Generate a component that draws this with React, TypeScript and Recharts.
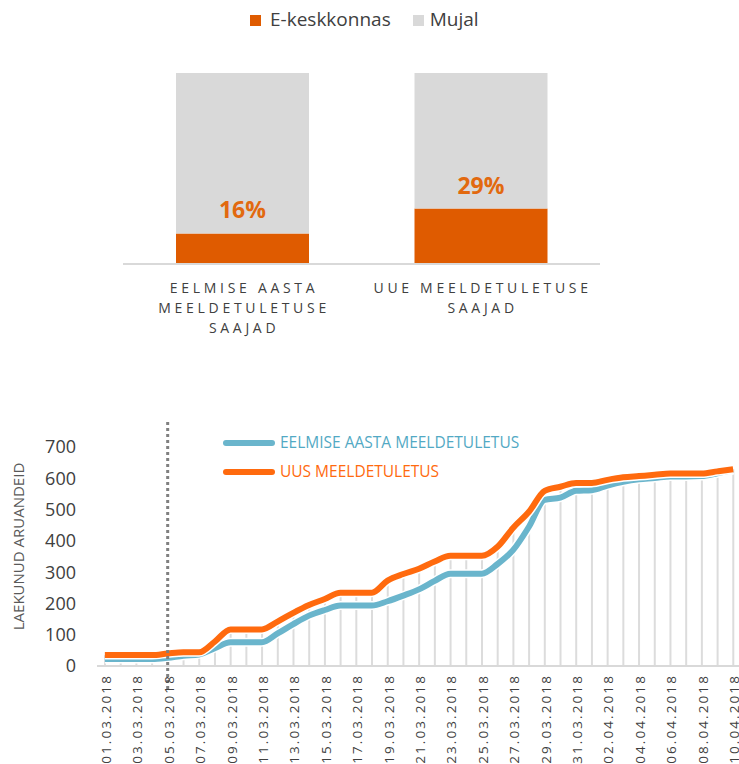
import React from 'react';
import {
  BarChart,
  Bar,
  XAxis,
  YAxis,
  LabelList,
  Legend,
  ComposedChart,
  Line,
  ReferenceLine,
} from 'recharts';

// ---------- Top chart data ----------
const groupKeys = ['EELMISE AASTA MEELDETULETUSE SAAJAD', 'UUE MEELDETULETUSE SAAJAD'];
const groupLabelLines = [
  ['EELMISE AASTA', 'MEELDETULETUSE', 'SAAJAD'],
  ['UUE MEELDETULETUSE', 'SAAJAD'],
];
const eKeskkonnas = [16, 29];
const mujal = [84, 71];
const shareSeriesNames = ['E-keskkonnas', 'Mujal'];

// ---------- Bottom chart data ----------
const dates = [
  '01.03.2018', '02.03.2018', '03.03.2018', '04.03.2018', '05.03.2018', '06.03.2018', '07.03.2018',
  '08.03.2018', '09.03.2018', '10.03.2018', '11.03.2018', '12.03.2018', '13.03.2018', '14.03.2018',
  '15.03.2018', '16.03.2018', '17.03.2018', '18.03.2018', '19.03.2018', '20.03.2018', '21.03.2018',
  '22.03.2018', '23.03.2018', '24.03.2018', '25.03.2018', '26.03.2018', '27.03.2018', '28.03.2018',
  '29.03.2018', '30.03.2018', '31.03.2018', '01.04.2018', '02.04.2018', '03.04.2018', '04.04.2018',
  '05.04.2018', '06.04.2018', '07.04.2018', '08.04.2018', '09.04.2018', '10.04.2018',
];
const eelmiseAasta = [
  22, 22, 22, 22, 26, 33, 37, 57, 76, 76, 76, 104, 134, 161, 179, 193, 193, 193, 207, 225, 245,
  272, 295, 295, 295, 326, 371, 445, 531, 538, 560, 562, 577, 589, 597, 601, 606, 606, 607, 616, 626,
];
const uusMeeldetuletus = [
  35, 35, 35, 35, 40, 44, 44, 78, 117, 117, 117, 142, 170, 195, 214, 234, 234, 234, 273, 294, 311,
  334, 352, 352, 352, 381, 442, 493, 560, 573, 585, 585, 595, 603, 607, 611, 615, 615, 615, 622, 629,
];
const yTicks = [0, 100, 200, 300, 400, 500, 600, 700];
const markerDate = '05.03.2018';
const lineSeriesNames = ['EELMISE AASTA MEELDETULETUS', 'UUS MEELDETULETUS'];
const yAxisTitle = 'LAEKUNUD ARUANDEID';

// ---------- Styles ----------
const FONT = "'Open Sans', sans-serif";
const BAR_ORANGE = '#DF5B00';
const BAR_GRAY = '#D9D9D9';
const PCT_COLOR = '#E2690F';
const TEXT = '#404040';
const LINE_BLUE = '#6AB5CC';
const LINE_ORANGE = '#FF6A0E';
const BLUE_TEXT = '#52A9C4';
const DROP_GRAY = '#DCDCDC';

const shareData = groupKeys.map((g, i) => ({ group: g, e: eKeskkonnas[i], m: mujal[i] }));
const lineData = dates.map((d, i) => ({ date: d, eelmise: eelmiseAasta[i], uus: uusMeeldetuletus[i] }));

const CategoryTick = (props: any) => {
  const { x, y, payload } = props;
  const idx = groupKeys.indexOf(payload.value);
  const lines = groupLabelLines[idx] || [payload.value];
  const ls = 3.7;
  return (
    <g>
      {lines.map((ln, i) => (
        <text
          key={i}
          x={x + ls / 2}
          y={y + 23 + i * 20.4}
          textAnchor="middle"
          dominantBaseline="central"
          fontSize={14}
          letterSpacing={ls}
          fill={TEXT}
          fontFamily={FONT}
        >
          {ln}
        </text>
      ))}
    </g>
  );
};

const PctLabel = (props: any) => {
  const vb = props.viewBox || props;
  const x = vb.x ?? props.x;
  const y = vb.y ?? props.y;
  const width = vb.width ?? props.width;
  const index = props.index;
  return (
    <text
      x={x + width / 2}
      y={y - 24}
      textAnchor="middle"
      dominantBaseline="central"
      fontSize={23}
      fontWeight={700}
      fill={PCT_COLOR}
      fontFamily={FONT}
    >
      {eKeskkonnas[index]}%
    </text>
  );
};

const TopLegend = () => {
  const colors = [BAR_ORANGE, BAR_GRAY];
  return (
    <div style={{ display: 'flex', alignItems: 'center', height: 29, paddingLeft: 250, fontFamily: FONT }}>
      {shareSeriesNames.map((n, i) => (
        <div key={n} style={{ display: 'flex', alignItems: 'center', marginRight: 22 }}>
          <div style={{ width: 11, height: 11, background: colors[i], marginTop: 2, marginRight: i === 0 ? 9 : 6 }} />
          <span style={{ fontSize: 19, color: TEXT, lineHeight: '29px' }}>{n}</span>
        </div>
      ))}
    </div>
  );
};

const LineLegend = () => {
  const colors = [LINE_BLUE, LINE_ORANGE];
  const textColors = [BLUE_TEXT, LINE_ORANGE];
  return (
    <div style={{ fontFamily: FONT }}>
      {lineSeriesNames.map((n, i) => (
        <div key={n} style={{ display: 'flex', alignItems: 'center', height: 29 }}>
          <svg width={56} height={10} style={{ display: 'block' }}>
            <line x1={4} y1={5} x2={50} y2={5} stroke={colors[i]} strokeWidth={6} strokeLinecap="round" />
          </svg>
          <span style={{ fontSize: 15.5, color: textColors[i], marginLeft: 2, lineHeight: '29px' }}>{n}</span>
        </div>
      ))}
    </div>
  );
};

const DateTick = (props: any) => {
  const { x, y, payload } = props;
  return (
    <text
      x={0}
      y={0}
      transform={`translate(${x + 1},${y + 8}) rotate(-90)`}
      textAnchor="end"
      dominantBaseline="central"
      fontSize={13.5}
      letterSpacing={2.1}
      fill={TEXT}
      fontFamily={FONT}
    >
      {payload.value}
    </text>
  );
};

const YTitle = (props: any) => {
  const vb = props.viewBox || { x: 37, y: 47, width: 60, height: 219 };
  const cx = vb.x - 19.5;
  const cy = vb.y + vb.height / 2 - 10;
  return (
    <text
      x={cx}
      y={cy}
      transform={`rotate(-90, ${cx}, ${cy})`}
      textAnchor="middle"
      dominantBaseline="central"
      fontSize={15}
      fill="#595959"
      fontFamily={FONT}
    >
      {yAxisTitle}
    </text>
  );
};

export default function App() {
  return (
    <div
      style={{
        position: 'absolute',
        left: 0,
        top: 0,
        width: 739,
        height: 764,
        overflow: 'hidden',
        background: '#fff',
        fontFamily: FONT,
      }}
    >
      <div style={{ position: 'absolute', left: 0, top: 0 }}>
        <BarChart
          width={739}
          height={345}
          data={shareData}
          stackOffset="expand"
          margin={{ top: 73, right: 139, left: 123, bottom: 0 }}
          barSize={133}
        >
          <XAxis
            dataKey="group"
            axisLine={{ stroke: BAR_GRAY, strokeWidth: 2 }}
            tickLine={false}
            tickSize={0}
            tickMargin={0}
            height={81}
            interval={0}
            tick={<CategoryTick />}
          />
          <YAxis hide />
          <Legend
            content={<TopLegend />}
            layout="horizontal"
            verticalAlign="middle"
            align="center"
            wrapperStyle={{ position: 'absolute', top: 5, left: 0, width: 739, height: 29 }}
          />
          <Bar dataKey="e" stackId="a" fill={BAR_ORANGE} isAnimationActive={false}>
            <LabelList dataKey="e" content={PctLabel} />
          </Bar>
          <Bar dataKey="m" stackId="a" fill={BAR_GRAY} isAnimationActive={false} />
        </BarChart>
      </div>

      <div style={{ position: 'absolute', left: 0, top: 400 }}>
        <ComposedChart
          width={760}
          height={364}
          data={lineData}
          margin={{ top: 47, right: 19, left: 37, bottom: 0 }}
        >
          <XAxis
            dataKey="date"
            axisLine={{ stroke: BAR_GRAY, strokeWidth: 2 }}
            tickLine={false}
            tickSize={0}
            tickMargin={0}
            height={98}
            interval={1}
            tick={<DateTick />}
          />
          <YAxis
            domain={[0, 700]}
            ticks={yTicks}
            interval={0}
            axisLine={false}
            tickLine={false}
            tickSize={0}
            tickMargin={21}
            width={60}
            tick={{ fontSize: 18, fill: TEXT, fontFamily: FONT }}
            label={YTitle}
          />
          <Legend
            content={<LineLegend />}
            layout="horizontal"
            verticalAlign="middle"
            align="center"
            wrapperStyle={{ position: 'absolute', top: 28, left: 222, width: 420, height: 58 }}
          />
          <Bar dataKey="uus" barSize={2} fill={DROP_GRAY} isAnimationActive={false} legendType="none" />
          <Line
            type="monotone"
            dataKey="eelmise"
            stroke="#ffffff"
            strokeWidth={9}
            dot={false}
            activeDot={false}
            isAnimationActive={false}
            legendType="none"
          />
          <Line
            type="monotone"
            dataKey="eelmise"
            name={lineSeriesNames[0]}
            stroke={LINE_BLUE}
            strokeWidth={6}
            dot={false}
            activeDot={false}
            isAnimationActive={false}
          />
          <Line
            type="monotone"
            dataKey="uus"
            stroke="#ffffff"
            strokeWidth={9}
            dot={false}
            activeDot={false}
            isAnimationActive={false}
            legendType="none"
          />
          <Line
            type="monotone"
            dataKey="uus"
            name={lineSeriesNames[1]}
            stroke={LINE_ORANGE}
            strokeWidth={6}
            dot={false}
            activeDot={false}
            isAnimationActive={false}
          />
          <ReferenceLine
            segment={[
              { x: markerDate, y: 780 },
              { x: markerDate, y: -77 },
            ]}
            stroke="#808080"
            strokeWidth={3}
            strokeDasharray="3 3"
            ifOverflow="visible"
          />
        </ComposedChart>
      </div>
    </div>
  );
}
